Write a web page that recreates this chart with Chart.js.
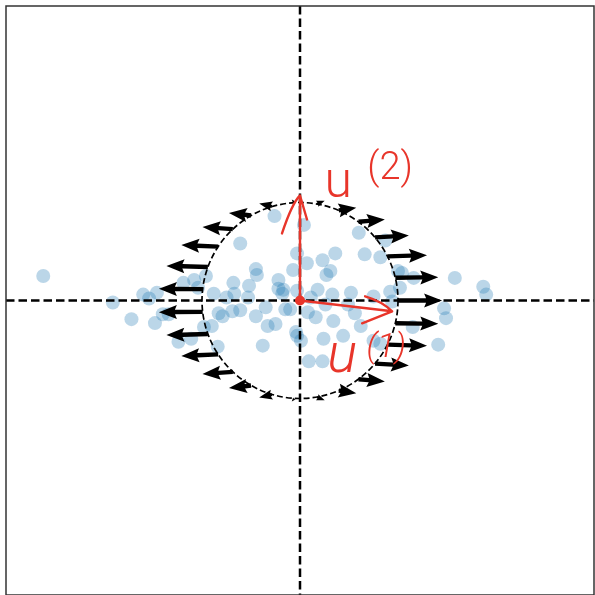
<!DOCTYPE html>
<html>
<head>
<meta charset="utf-8">
<script src="https://cdn.jsdelivr.net/npm/chart.js@4.4.0/dist/chart.umd.min.js"></script>
<style>
  html, body { margin: 0; padding: 0; background: #ffffff; }
  #wrap { width: 595px; height: 595px; }
</style>
</head>
<body>
<div id="wrap"><canvas id="c" width="595" height="595"></canvas></div>
<script>
// Sample cloud (x, y)
const sampleX = [-2.62,-1.91,-1.72,-1.60,-1.54,-1.48,-1.40,-1.24,-1.19,-1.11,-1.08,-1.04,-0.96,-0.98,-0.90,-0.88,-0.84,-0.83,-0.79,-0.69,
  -0.68,-0.67,-0.61,-0.61,-0.53,-0.52,-0.45,-0.44,-0.45,-0.38,-0.33,-0.26,-0.25,-0.22,-0.22,-0.18,-0.17,-0.15,-0.07,-0.03,
  -0.03,-0.03,0.01,0.04,0.07,0.08,0.09,0.11,0.18,0.23,0.23,0.26,0.24,0.27,0.31,0.34,0.33,0.36,0.44,0.49,
  0.52,0.56,0.60,0.62,0.66,0.75,0.75,0.82,0.82,0.87,0.92,0.94,1.00,1.04,1.16,1.02,1.15,1.41,1.47,1.49,
  1.58,1.87,1.90,-1.46,-1.34,-0.75,-0.35,-0.10,-0.04,0.16];
const sampleY = [0.25,-0.02,-0.19,0.06,0.02,-0.23,-0.14,-0.42,0.18,-0.39,0.21,0.13,0.25,-0.27,-0.26,0.07,-0.47,-0.13,-0.16,-0.11,
  0.18,0.07,0.58,-0.10,0.03,0.15,0.32,0.26,-0.16,-0.46,-0.26,0.86,-0.24,0.21,0.12,0.07,0.11,-0.09,0.31,0.48,
  0.10,-0.36,-0.41,0.77,0.38,-0.12,-0.62,0.03,0.11,-0.62,0.41,-0.04,-0.39,0.26,0.30,-0.21,0.06,0.48,-0.36,-0.04,
  0.08,-0.13,0.69,-0.26,0.47,0.04,-0.41,-0.44,0.44,0.61,0.09,-0.01,0.30,0.28,0.23,0.13,-0.27,-0.45,-0.08,-0.18,
  0.23,0.14,0.06,0.08,-0.14,0.03,-0.07,-0.09,-0.32,-0.17];

// Vector field sampled on the unit circle: tails and components
const arrowTailX = [1.000,0.973,0.894,0.766,0.597,0.396,0.174,-0.058,-0.287,-0.500,-0.686,-0.835,-0.940,-0.993,
  -0.993,-0.940,-0.835,-0.686,-0.500,-0.287,-0.058,0.174,0.396,0.597,0.766,0.894,0.973];
const arrowTailY = [0.000,0.231,0.449,0.643,0.802,0.918,0.985,0.998,0.958,0.866,0.727,0.549,0.342,0.116,
  -0.116,-0.342,-0.549,-0.727,-0.866,-0.958,-0.998,-0.985,-0.918,-0.802,-0.643,-0.449,-0.231];
const arrowU = [0.450,0.438,0.402,0.345,0.269,0.178,0.078,-0.026,-0.129,-0.225,-0.309,-0.376,-0.423,-0.447,
  -0.447,-0.423,-0.376,-0.309,-0.225,-0.129,-0.026,0.078,0.178,0.269,0.345,0.402,0.438];
const arrowV = [0.000,0.007,0.013,0.019,0.024,0.028,0.030,0.030,0.029,0.026,0.022,0.016,0.010,0.003,
  -0.003,-0.010,-0.016,-0.022,-0.026,-0.029,-0.030,-0.030,-0.028,-0.024,-0.019,-0.013,-0.007];

// Axis extent, unit circle and the two principal directions
const axisRange = [-3, 3];
const circleRadius = 1;
const directionU1 = [0.94, -0.11];
const directionU2 = [0.00, 1.07];

const RED = '#e8352a';

const overlay = {
  id: 'overlay',
  afterDatasetsDraw(chart) {
    const { ctx, chartArea: a, scales: { x, y } } = chart;
    const px = v => x.getPixelForValue(v);
    const py = v => y.getPixelForValue(v);
    const ux = px(1) - px(0);
    const uy = py(0) - py(1);

    ctx.save();
    ctx.beginPath();
    ctx.rect(a.left, a.top, a.right - a.left, a.bottom - a.top);
    ctx.clip();

    // quiver arrows
    const W = 4.4, HW = 14, HL = 18, HAL = 16;
    ctx.fillStyle = '#000';
    for (let i = 0; i < arrowTailX.length; i++) {
      const x0 = px(arrowTailX[i]), y0 = py(arrowTailY[i]);
      const dx = arrowU[i] * ux, dy = -arrowV[i] * uy;
      const L = Math.hypot(dx, dy);
      if (L < 0.5) continue;
      let pts;
      if (L >= HL) {
        pts = [[0, -W/2], [L - HAL, -W/2], [L - HL, -HW/2], [L, 0], [L - HL, HW/2], [L - HAL, W/2], [0, W/2]];
      } else {
        const s = L / HL;
        pts = [[0, -W/2*s], [(HL - HAL)*s, -W/2*s], [0, -HW/2*s], [L, 0], [0, HW/2*s], [(HL - HAL)*s, W/2*s], [0, W/2*s]];
      }
      ctx.save();
      ctx.translate(x0, y0);
      ctx.rotate(Math.atan2(dy, dx));
      ctx.beginPath();
      pts.forEach((p, k) => k ? ctx.lineTo(p[0], p[1]) : ctx.moveTo(p[0], p[1]));
      ctx.closePath();
      ctx.fill();
      ctx.restore();
    }

    // dashed coordinate axes
    ctx.strokeStyle = '#000';
    ctx.lineWidth = 2.5;
    ctx.setLineDash([8.5, 4]);
    ctx.beginPath();
    ctx.moveTo(a.left, py(0)); ctx.lineTo(a.right, py(0));
    ctx.moveTo(px(0), a.top); ctx.lineTo(px(0), a.bottom);
    ctx.stroke();

    // dashed unit circle
    ctx.lineWidth = 1.7;
    ctx.setLineDash([6, 3]);
    ctx.beginPath();
    ctx.arc(px(0), py(0), circleRadius * ux, 0, Math.PI * 2);
    ctx.stroke();
    ctx.setLineDash([]);

    // red principal directions
    ctx.strokeStyle = RED;
    ctx.fillStyle = RED;
    ctx.lineWidth = 2.4;
    ctx.lineCap = 'round';
    ctx.lineJoin = 'round';
    const ox = px(0), oy = py(0);
    const t1x = px(directionU1[0]), t1y = py(directionU1[1]);
    const t2x = px(directionU2[0]), t2y = py(directionU2[1]);
    ctx.beginPath();
    ctx.moveTo(ox, oy); ctx.lineTo(t1x, t1y);
    ctx.moveTo(t1x - 27, t1y - 15); ctx.quadraticCurveTo(t1x - 10, t1y - 10, t1x, t1y);
    ctx.lineTo(t1x - 30, t1y + 12);
    ctx.moveTo(ox, oy); ctx.lineTo(t2x, t2y);
    ctx.moveTo(t2x - 18, t2y + 38); ctx.quadraticCurveTo(t2x - 8, t2y + 8, t2x, t2y);
    ctx.lineTo(t2x + 7, t2y + 24);
    ctx.stroke();
    ctx.beginPath();
    ctx.arc(ox, oy, 5, 0, Math.PI * 2);
    ctx.fill();

    ctx.textAlign = 'center';
    ctx.textBaseline = 'alphabetic';
    ctx.font = '300 50px Roboto';
    ctx.fillText('u', px(0.39), py(1.05));
    ctx.font = '300 38px Roboto';
    ctx.fillText('(2)', px(0.92), py(1.24));
    ctx.font = 'italic 300 56px Roboto';
    ctx.fillText('u', px(0.43), py(-0.73));
    ctx.font = 'italic 300 34px Roboto';
    ctx.fillText('(1)', px(0.88), py(-0.58));
    ctx.restore();

    // frame
    ctx.save();
    ctx.strokeStyle = '#333';
    ctx.lineWidth = 1.5;
    ctx.strokeRect(a.left, a.top, a.right - a.left, a.bottom - a.top);
    ctx.restore();
  }
};

new Chart(document.getElementById('c'), {
  type: 'scatter',
  data: {
    datasets: [{
      data: sampleX.map((v, i) => ({ x: v, y: sampleY[i] })),
      backgroundColor: 'rgba(31,119,180,0.3)',
      borderWidth: 0,
      pointRadius: 7,
      pointHoverRadius: 7
    }]
  },
  options: {
    responsive: false,
    animation: false,
    devicePixelRatio: 1,
    layout: { autoPadding: false, padding: { left: 6, top: 6, right: 1, bottom: 0 } },
    plugins: { legend: { display: false }, tooltip: { enabled: false } },
    events: [],
    scales: {
      x: { type: 'linear', min: axisRange[0], max: axisRange[1], display: false },
      y: { type: 'linear', min: axisRange[0], max: axisRange[1], display: false }
    }
  },
  plugins: [overlay]
});
</script>
</body>
</html>
